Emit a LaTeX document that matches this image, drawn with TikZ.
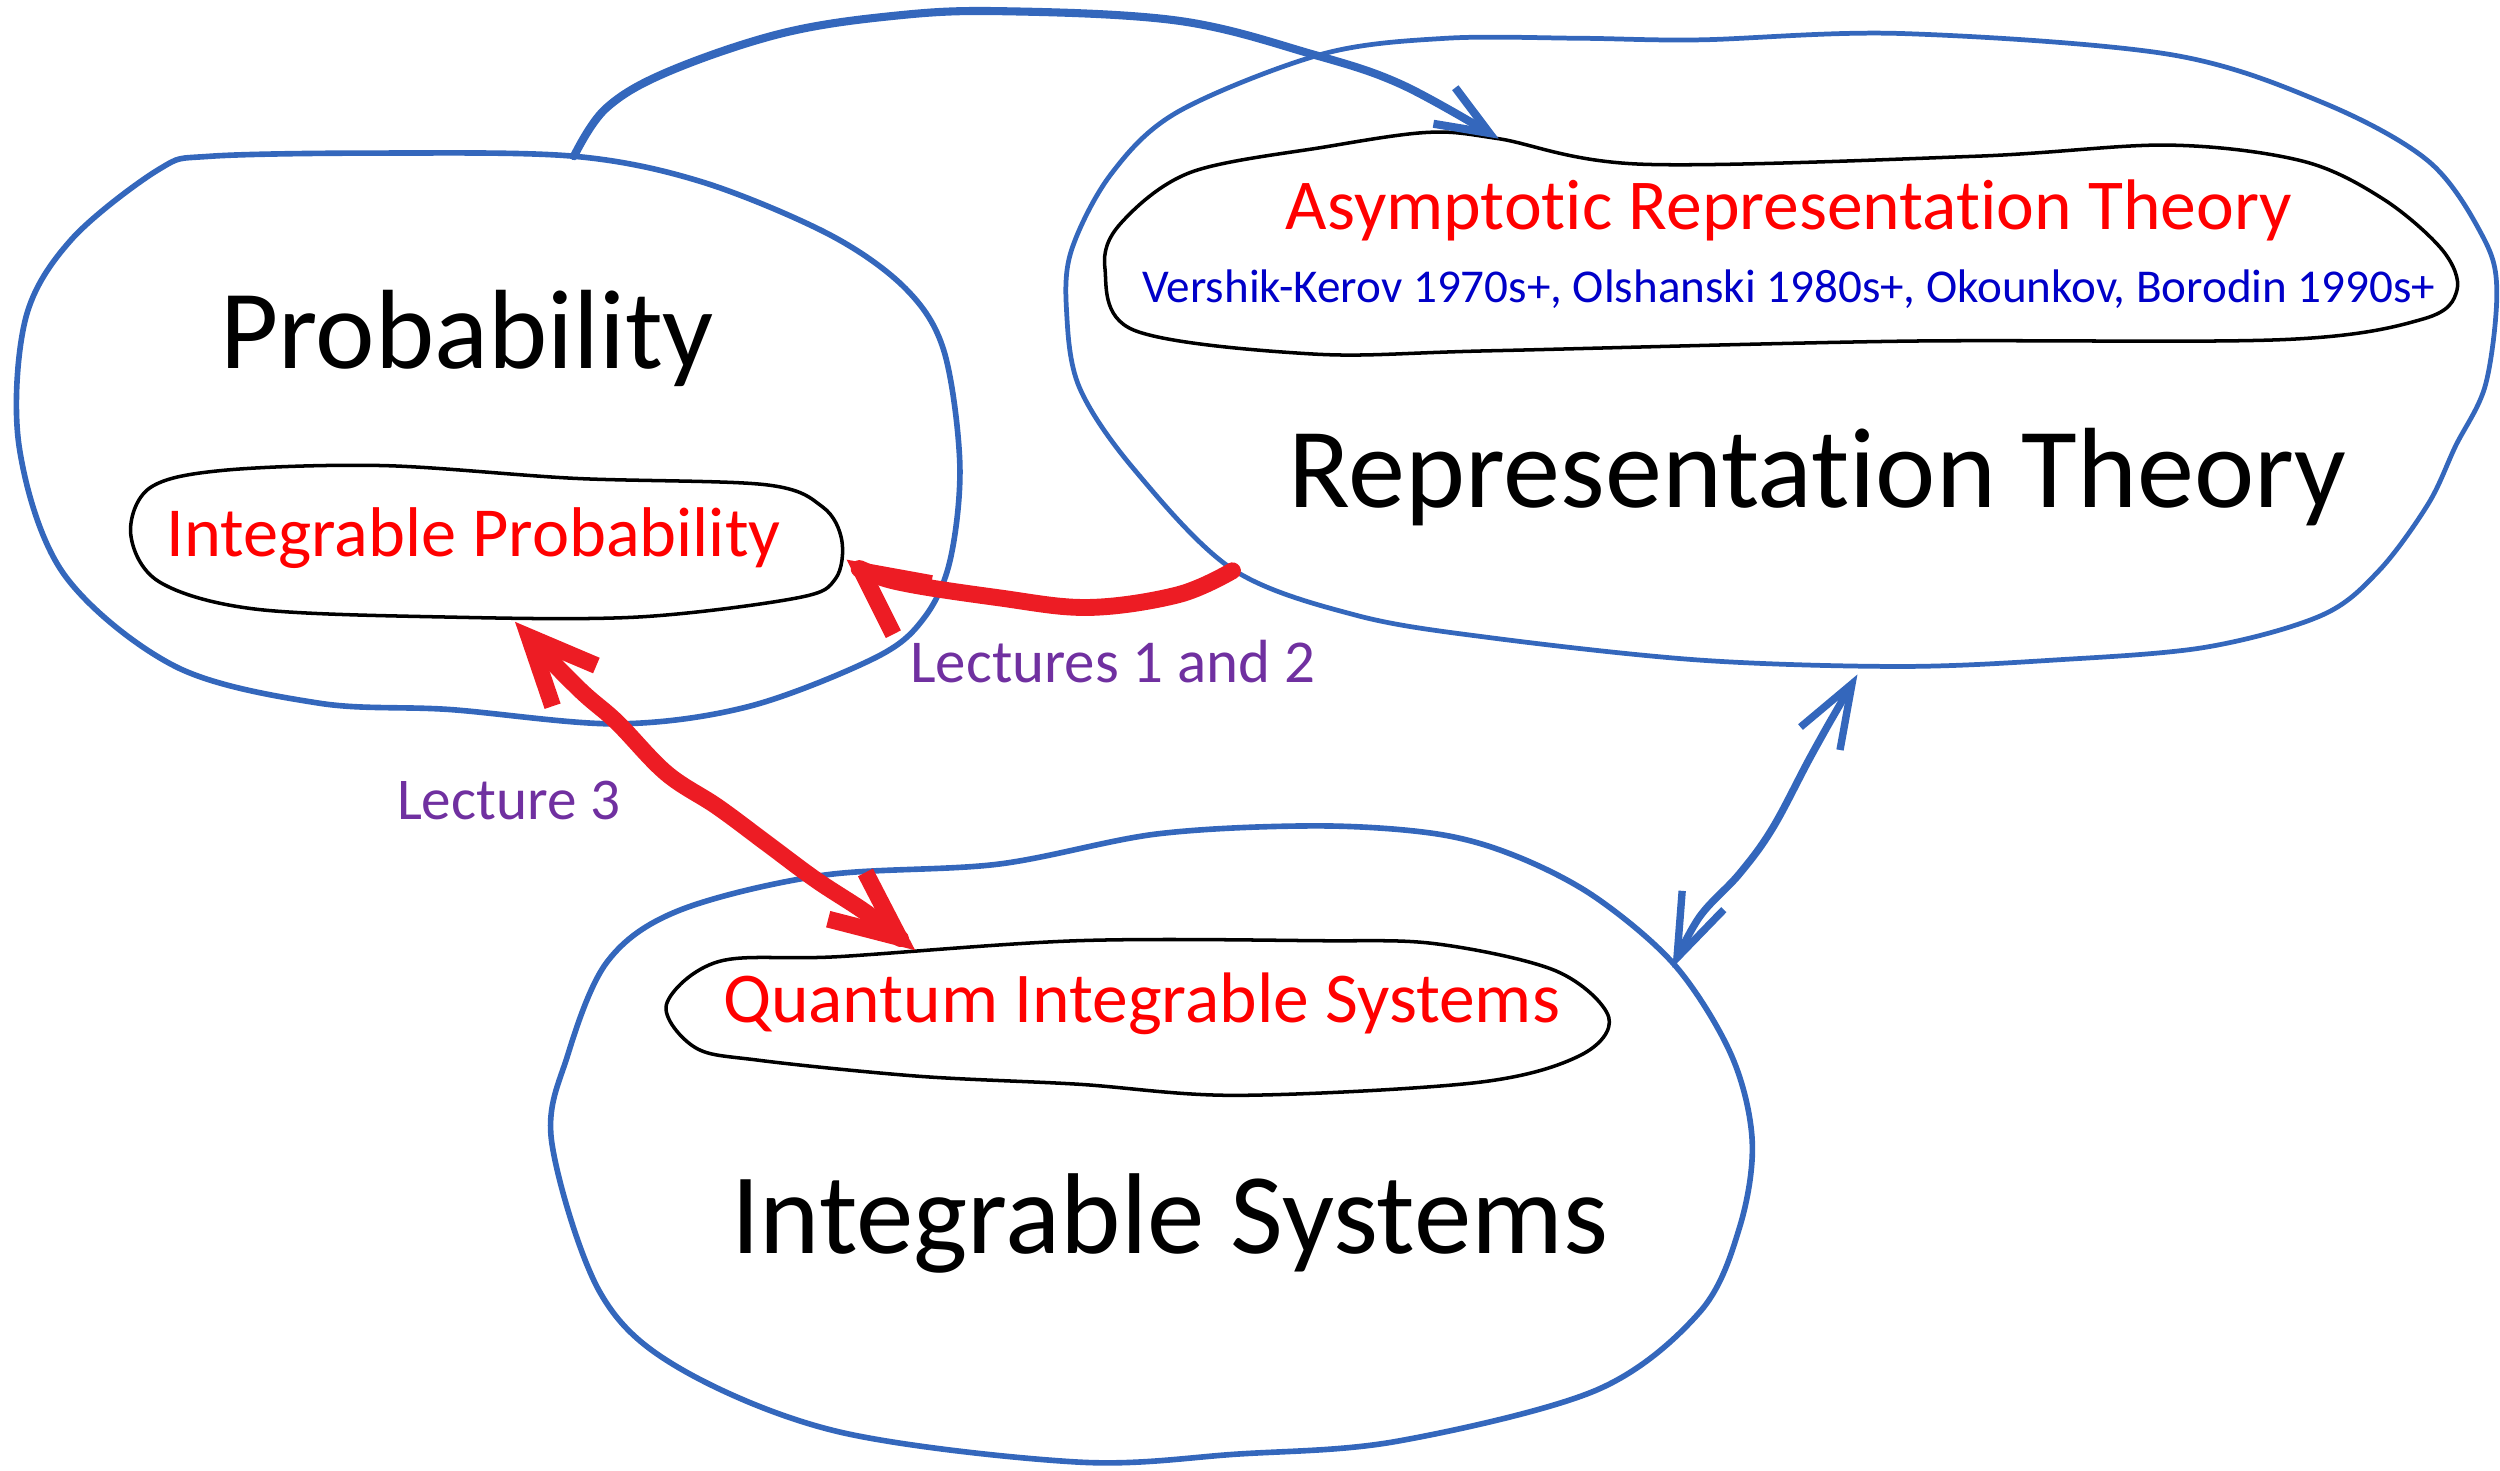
\documentclass[tikz,border=0pt]{standalone}
\usepackage{fontspec}
\usepackage{graphicx}
\setmainfont[Ligatures=NoCommon]{Carlito}
\usetikzlibrary{arrows.meta}
\definecolor{blobblue}{RGB}{52,103,188}
\definecolor{arrred}{RGB}{237,28,36}
\definecolor{txtred}{RGB}{255,0,0}
\definecolor{txtblue}{RGB}{0,0,200}
\definecolor{txtpurple}{RGB}{112,48,160}
\begin{document}
\begin{tikzpicture}[x=0.015944cm,y=-0.015944cm,
  outerblob/.style={draw=blobblue,line width=1.6pt,line join=round},
  innerblob/.style={draw=black,line width=1pt,line join=round},
  lbl/.style={inner sep=0pt,anchor=base},
  redarrow/.style={draw=arrred,line width=4.8pt,line cap=round,line join=round},
  bluearrow/.style={draw=blobblue,line width=2.1pt,line cap=round,line join=round},
  arcarrow/.style={draw=blobblue,line width=2.3pt,line cap=round,line join=round}]
\useasboundingbox (0,0) rectangle (1568,922);

% outer blobs
\draw[outerblob] plot[smooth cycle,tension=0.55] coordinates {(132,98) (240,96) (360,98) (440,114) (520,147) (568,181) (592,220) (602,291) (596,351) (580,387) (550,412) (470,443) (387,454) (282,445) (200,441) (110,418) (40,360) (12,280) (16,200) (45,150) (100,106)};
\draw[outerblob,line width=1.35pt] plot[smooth cycle,tension=0.55] coordinates {(829,34) (907,24) (991,24) (1066,25) (1192,21) (1360,34) (1456,64) (1523,101) (1557,148) (1566,182) (1559,241) (1540,280) (1523,316) (1492,358) (1456,386) (1383,406) (1288,414) (1192,418) (1066,414) (935,400) (851,386) (773,357) (711,294) (677,243) (669,196) (672,157) (697,109) (739,70)};
\draw[outerblob] plot[smooth cycle,tension=0.55] coordinates {(516,549) (626,542) (726,523) (826,518) (901,523) (951,537) (1001,563) (1051,606) (1086,662) (1099,716) (1091,770) (1066,823) (1001,872) (876,904) (776,912) (676,917) (526,898) (426,858) (376,810) (346,716) (356,662) (381,603) (426,571)};

% inner blobs
\draw[innerblob] plot[smooth cycle,tension=0.55] coordinates {(82,335) (94,306) (140,295) (240,292) (360,300) (480,304) (516,318) (528,339) (524,363) (500,375) (400,387) (280,387) (160,382) (100,365)};
\draw[innerblob] plot[smooth cycle,tension=0.55] coordinates {(832,92) (896,83) (940,87) (1030,103) (1239,98) (1360,91) (1444,101) (1495,125) (1532,157) (1541,182) (1520,200) (1432,213) (1192,214) (935,220) (823,222) (711,207) (693,168) (703,140) (747,108)};
\draw[innerblob] plot[smooth cycle,tension=0.55] coordinates {(418,630) (451,603) (526,600) (676,590) (826,590) (901,592) (976,609) (1009,638) (991,662) (926,679) (776,687) (676,680) (576,675) (476,665) (436,657)};

% texts
\node[lbl,text=black] (prob) at (293,231) {\resizebox{4.94cm}{!}{Probability}};
\node[lbl,text=txtred] (iprob) at (297,349) {\resizebox{6.14cm}{!}{Integrable Probability}};
\node[lbl,text=txtred] (art) at (1122,144) {\resizebox{10.06cm}{!}{Asymptotic Representation Theory}};
\node[lbl,text=txtblue] (names) at (1122,190) {\resizebox{12.93cm}{!}{Vershik-Kerov 1970s+, Olshanski 1980s+, Okounkov, Borodin 1990s+}};
\node[lbl,text=black] (rt) at (1140,318) {\resizebox{10.58cm}{!}{Representation Theory}};
\node[lbl,text=txtred] (qis) at (716,641) {\resizebox{8.37cm}{!}{Quantum Integrable Systems}};
\node[lbl,text=black] (is) at (733.5,786) {\resizebox{8.77cm}{!}{Integrable Systems}};
\node[lbl,text=txtpurple] (lec12) at (698,428) {\resizebox{4.05cm}{!}{Lectures 1 and 2}};
\node[lbl,text=txtpurple] (lec3) at (319,514) {\resizebox{2.23cm}{!}{Lecture 3}};

% connector end points
\coordinate (arcS) at (360,98);
\coordinate (arcE) at (940,87);
\coordinate (r1S) at (773,358);
\coordinate (r1E) at (531,351);
\coordinate (r2A) at (323,390);
\coordinate (r2B) at (574,596);
\coordinate (b2A) at (1165,423);
\coordinate (b2B) at (1049,607);

% arrows
\draw[arcarrow,-{Straight Barb[length=15pt,width=12pt]}] plot[smooth,tension=0.6] coordinates {(arcS) (380,68) (419,45) (490,21) (560,10) (627,7) (739,13) (823,34) (879,53) (arcE)};
\draw[redarrow,-{Straight Barb[length=18pt,width=18pt]}] plot[smooth,tension=0.6] coordinates {(r1S) (739,373) (683,381) (627,375) (559,364) (r1E)};
\draw[redarrow,{Straight Barb[length=19pt,width=17pt]}-{Straight Barb[length=19pt,width=17pt]}] plot[smooth,tension=0.6] coordinates {(r2A) (362,431) (387,453) (418,485) (450,506) (481,529) (512,552) (544,573) (r2B)};
\draw[bluearrow,{Straight Barb[length=18pt,width=13pt]}-{Straight Barb[length=18pt,width=13pt]}] plot[smooth,tension=0.6] coordinates {(b2A) (1137,472) (1112,519) (1091,548) (1066,575) (b2B)};
\end{tikzpicture}
\end{document}
